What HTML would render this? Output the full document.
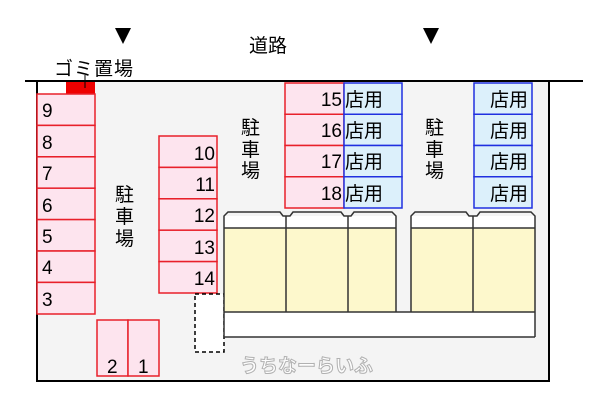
<!DOCTYPE html>
<html><head><meta charset="utf-8"><style>
body{margin:0;background:#fff;}
svg{display:block;font-family:"Liberation Sans","Noto Sans CJK JP",sans-serif;}
</style></head><body>
<svg width="600" height="400" viewBox="0 0 600 400">
<rect x="37" y="82" width="511" height="298" fill="#f4f4f4"/>
<line x1="25" y1="81" x2="583" y2="81" stroke="#000" stroke-width="2"/>
<polyline points="37,81 37,381 549,381 549,81" fill="none" stroke="#000" stroke-width="2"/>
<rect x="38" y="82" width="28" height="12" fill="#fff"/>
<rect x="66" y="82" width="29" height="12" fill="#e00"/>
<line x1="85" y1="75" x2="85" y2="88" stroke="#000" stroke-width="1"/>
<polygon points="115,28 131,28 123,44" fill="#000"/>
<polygon points="423,28 439,28 431,44" fill="#000"/>
<text x="249" y="52" font-size="19">道路</text>
<text x="54" y="75" font-size="19" letter-spacing="1">ゴミ置場</text>
<g fill="#fde4ee" stroke="#e8202a" stroke-width="1.5">
<rect x="37" y="94" width="58" height="31.4"/><rect x="37" y="125.4" width="58" height="31.4"/>
<rect x="37" y="156.8" width="58" height="31.4"/><rect x="37" y="188.2" width="58" height="31.4"/>
<rect x="37" y="219.6" width="58" height="31.4"/><rect x="37" y="251" width="58" height="31.4"/>
<rect x="37" y="282.4" width="58" height="31.6"/>
<rect x="159" y="136" width="58" height="31.4"/><rect x="159" y="167.4" width="58" height="31.4"/>
<rect x="159" y="198.8" width="58" height="31.4"/><rect x="159" y="230.2" width="58" height="31.4"/>
<rect x="159" y="261.6" width="58" height="31.4"/>
<rect x="97" y="320" width="31" height="56"/><rect x="128" y="320" width="31" height="56"/>
<rect x="285" y="83" width="59" height="31.25"/><rect x="285" y="114.25" width="59" height="31.25"/>
<rect x="285" y="145.5" width="59" height="31.25"/><rect x="285" y="176.75" width="59" height="31.25"/>
</g>
<g fill="#dcf0fb" stroke="#2030e0" stroke-width="1.5">
<rect x="344" y="83" width="58" height="31.25"/><rect x="344" y="114.25" width="58" height="31.25"/>
<rect x="344" y="145.5" width="58" height="31.25"/><rect x="344" y="176.75" width="58" height="31.25"/>
<rect x="474" y="83" width="58" height="31.25"/><rect x="474" y="114.25" width="58" height="31.25"/>
<rect x="474" y="145.5" width="58" height="31.25"/><rect x="474" y="176.75" width="58" height="31.25"/>
</g>
<g font-size="19" fill="#000">
<text x="42" y="117">9</text><text x="42" y="149">8</text><text x="42" y="180">7</text>
<text x="42" y="212">6</text><text x="42" y="243">5</text><text x="42" y="274">4</text><text x="42" y="306">3</text>
<g text-anchor="end"><text x="215" y="160">10</text><text x="215" y="191">11</text><text x="215" y="222">12</text>
<text x="215" y="254">13</text><text x="215" y="285">14</text>
<text x="342" y="106">15</text><text x="342" y="137">16</text><text x="342" y="168">17</text><text x="342" y="200">18</text></g>
<text x="107" y="373">2</text><text x="138" y="373">1</text>
<text x="345" y="106">店用</text><text x="345" y="137">店用</text><text x="345" y="168">店用</text><text x="345" y="200">店用</text>
<text x="490" y="106">店用</text><text x="490" y="137">店用</text><text x="490" y="168">店用</text><text x="490" y="200">店用</text>
<text x="115" y="201">駐</text><text x="115" y="223">車</text><text x="115" y="245">場</text>
<text x="241" y="134">駐</text><text x="241" y="156">車</text><text x="241" y="177">場</text>
<text x="425" y="134">駐</text><text x="425" y="156">車</text><text x="425" y="177">場</text>
</g>
<rect x="195" y="294" width="29" height="58" fill="#fff" stroke="#000" stroke-width="1.5" stroke-dasharray="4,3"/>
<rect x="224" y="216" width="172" height="121" fill="#fff"/>
<rect x="411" y="216" width="124" height="121" fill="#fff"/>
<rect x="396" y="312" width="15" height="25" fill="#fff"/>
<rect x="224" y="228" width="172" height="84" fill="#fdf8cc"/>
<rect x="411" y="228" width="124" height="84" fill="#fdf8cc"/>
<g fill="none" stroke="#333" stroke-width="1.5">
<path d="M224,228 V216 L228,212 H280 L283,216 H290 L293,212 H341 L344,216 H351 L354,212 H392 L396,216 V312"/>
<path d="M411,312 V216 L415,212 H466 L469,216 H477 L480,212 H531 L535,216 V337"/>
<path d="M224,228 V337 H535"/>
<line x1="224" y1="228" x2="396" y2="228"/><line x1="411" y1="228" x2="535" y2="228"/>
<line x1="224" y1="312" x2="535" y2="312"/>
<line x1="286" y1="216" x2="286" y2="312"/><line x1="348" y1="216" x2="348" y2="312"/>
<line x1="473" y1="216" x2="473" y2="312"/>
</g>
<text x="240" y="372" font-size="19" fill="#fff" stroke="#aaa" stroke-width="1" font-weight="bold" opacity="0.9">うちなーらいふ</text>
</svg>
</body></html>
